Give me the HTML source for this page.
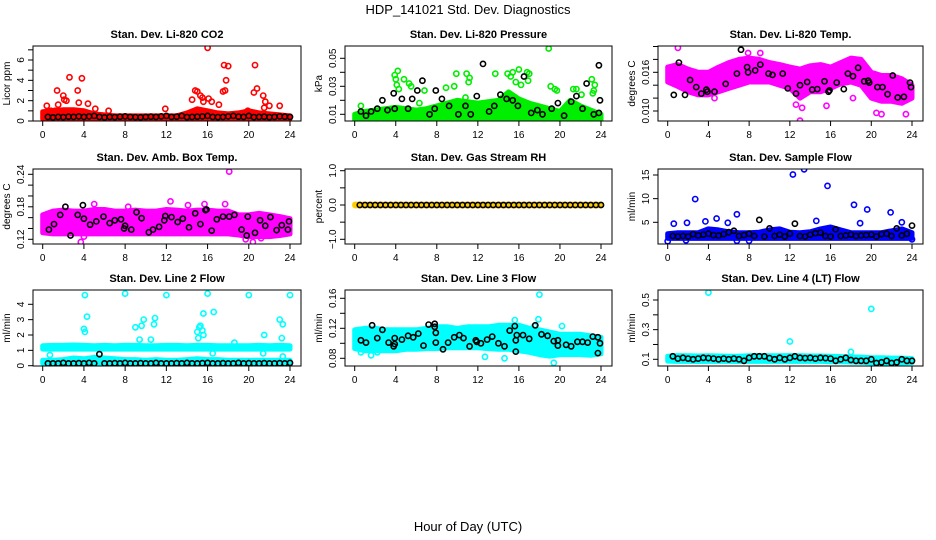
<!DOCTYPE html>
<html><head><meta charset="utf-8">
<style>
html,body{margin:0;padding:0;background:#fff;}
svg{display:block;font-family:"Liberation Sans",Arial,sans-serif;}
</style></head>
<body>
<svg id="chart" width="936" height="540" viewBox="0 0 936 540" xmlns="http://www.w3.org/2000/svg">
<text x="468" y="14" text-anchor="middle" font-size="13">HDP_141021  Std. Dev. Diagnostics</text>
<text x="468" y="531" text-anchor="middle" font-size="13">Hour of Day (UTC)</text>
</svg>
<script>
// ---------- shared data ----------
const bandHours = [0,1,2,3,4,5,6,7,8,9,10,11,12,13,14,15,16,17,18,19,20,21,22,23,24];
const slotHours = [0.5,1,1.5,2,2.5,3,3.5,4,4.5,5,5.5,6,6.5,7,7.5,8,8.5,9,9.5,10,10.5,11,11.5,12,12.5,13,13.5,14,14.5,15,15.5,16,16.5,17,17.5,18,18.5,19,19.5,20,20.5,21,21.5,22,22.5,23,23.5,24];
const xTicks = [0,4,8,12,16,20,24];

// ---------- P1 CO2 ----------
const p1BandLo = [0.2,0.2,0.2,0.2,0.2,0.2,0.2,0.2,0.2,0.2,0.2,0.2,0.2,0.2,0.2,0.2,0.2,0.2,0.2,0.2,0.2,0.2,0.2,0.2,0.2];
const p1BandHi = [0.9,1.0,1.1,1.1,1.0,0.7,0.6,0.5,0.5,0.5,0.5,0.5,0.5,0.5,0.8,1.2,1.0,0.8,0.7,0.8,1.0,0.8,0.7,0.6,0.5];
const p1OutH = [0.4,1.4,1.5,2.0,2.1,2.3,2.6,3.4,3.5,3.8,4.4,5.1,6.4,11.9,14.5,14.8,15.0,15.3,15.5,15.6,16.0,16.1,16.4,17.1,17.5,17.6,17.7,17.8,18.0,19.9,20.5,20.6,20.8,21.4,21.6,22.0,23.0,21.5,0.8,1.2];
const p1OutV = [1.5,3.0,1.6,2.5,2.1,2.0,4.3,3.0,1.8,4.2,1.7,1.2,1.0,1.2,2.1,3.0,2.9,2.5,2.3,1.9,7.2,2.2,1.9,1.6,2.9,5.5,3.0,4.0,5.4,1.0,2.8,5.5,3.2,2.5,1.9,1.5,1.5,1.3,1.0,1.0];
const p1BlackV = [0.4,0.35,0.4,0.38,0.42,0.4,0.45,0.4,0.45,0.5,0.4,0.35,0.4,0.38,0.42,0.45,0.4,0.38,0.36,0.4,0.42,0.4,0.45,0.5,0.4,0.42,0.5,0.38,0.4,0.42,0.45,0.5,0.4,0.38,0.4,0.45,0.5,0.42,0.4,0.5,0.38,0.4,0.42,0.38,0.4,0.45,0.42,0.4];

// ---------- P2 Pressure ----------
const p2BandLo = [0.006,0.006,0.006,0.006,0.006,0.006,0.006,0.006,0.006,0.006,0.006,0.006,0.006,0.006,0.006,0.006,0.006,0.006,0.006,0.006,0.006,0.006,0.006,0.006,0.006];
const p2BandHi = [0.01,0.012,0.013,0.014,0.015,0.014,0.013,0.014,0.016,0.018,0.02,0.019,0.018,0.019,0.02,0.026,0.021,0.018,0.016,0.014,0.012,0.02,0.016,0.013,0.01];
const p2OutH = [0.6,3.9,4.0,4.2,4.1,4.3,4.8,5.3,5.5,6.8,6.3,8.9,9.7,9.9,10.9,11.2,11.1,10.8,13.7,14.9,15.2,15.4,15.7,16.0,16.2,16.8,17.0,16.9,18.9,19.1,19.5,19.7,21.3,21.6,22.1,23.1,23.4,23.3,23.2];
const p2OutV = [0.016,0.038,0.035,0.041,0.031,0.028,0.035,0.032,0.03,0.027,0.018,0.029,0.03,0.039,0.039,0.036,0.033,0.022,0.039,0.039,0.037,0.04,0.033,0.042,0.031,0.04,0.039,0.034,0.057,0.03,0.028,0.027,0.028,0.028,0.024,0.035,0.031,0.027,0.025];
const p2BlackH = [0.6,1.1,1.6,2.2,2.7,3.2,3.8,3.9,4.6,5.2,5.6,6.1,6.6,7.3,7.8,7.9,8.5,9.2,10.1,10.8,11.3,11.9,12.5,13.1,13.6,14.2,14.8,15.4,15.9,16.5,17.2,17.8,18.3,19.2,19.8,20.4,21.1,21.6,22.2,22.6,23.3,23.8,23.9,23.8];
const p2BlackV = [0.012,0.009,0.012,0.014,0.02,0.013,0.025,0.014,0.021,0.014,0.021,0.027,0.034,0.01,0.014,0.027,0.021,0.016,0.01,0.016,0.01,0.023,0.046,0.012,0.016,0.024,0.021,0.02,0.016,0.037,0.011,0.013,0.01,0.014,0.018,0.009,0.019,0.023,0.014,0.032,0.01,0.045,0.02,0.011];

// ---------- P3 Li-820 Temp ----------
const p3BandLo = [0.0145,0.0138,0.013,0.0125,0.0125,0.013,0.0135,0.014,0.0145,0.0145,0.0145,0.014,0.0135,0.012,0.013,0.013,0.0135,0.0142,0.0145,0.014,0.012,0.0115,0.0115,0.0112,0.012];
const p3BandHi = [0.0168,0.0172,0.0165,0.016,0.016,0.0168,0.0175,0.018,0.0182,0.018,0.0175,0.0172,0.0168,0.0165,0.017,0.0172,0.0168,0.0175,0.0182,0.018,0.016,0.0155,0.0155,0.015,0.014];
const p3OutH = [1.0,7.9,9.1,13.0,13.2,21.0,23.4,20.5,4.6,18.2,12.6,15.6];
const p3OutV = [0.0198,0.019,0.019,0.0085,0.0105,0.0095,0.0095,0.0097,0.012,0.012,0.011,0.0108];
const p3BlackH = [0.6,1.1,1.7,2.2,2.8,3.3,3.8,3.9,4.6,5.7,6.8,7.2,7.8,7.9,8.6,9.1,9.9,10.3,11.3,11.8,12.6,13.0,13.7,14.2,14.7,15.4,15.8,15.9,16.6,17.3,17.7,18.2,18.7,19.3,19.7,19.8,20.6,21.1,21.6,22.1,22.6,23.2,23.8,23.9];
const p3BlackV = [0.0125,0.0175,0.0125,0.0148,0.0137,0.0127,0.0133,0.013,0.013,0.0142,0.0158,0.0195,0.0168,0.016,0.0163,0.0172,0.0158,0.0156,0.0158,0.0135,0.0127,0.014,0.0145,0.0133,0.0134,0.0146,0.013,0.0132,0.0144,0.0134,0.0158,0.0154,0.0167,0.0146,0.0147,0.0144,0.0137,0.0137,0.0126,0.0155,0.0121,0.0122,0.0144,0.0137];

// ---------- P4 Amb Box Temp ----------
const p4BandLo = [0.132,0.13,0.13,0.13,0.13,0.13,0.13,0.13,0.13,0.13,0.13,0.13,0.13,0.13,0.13,0.13,0.13,0.13,0.13,0.128,0.125,0.125,0.125,0.127,0.13];
const p4BandHi = [0.165,0.172,0.174,0.172,0.172,0.175,0.175,0.172,0.172,0.174,0.172,0.172,0.175,0.174,0.172,0.174,0.174,0.172,0.172,0.165,0.165,0.168,0.165,0.162,0.158];
const p4OutH = [18.1,3.7,12.4,5.0,15.7,17.7,20.4,21.2,4.0,8.3,14.1,19.7];
const p4OutV = [0.245,0.115,0.19,0.185,0.185,0.185,0.115,0.122,0.125,0.18,0.183,0.12];
const p4BlackH = [0.6,1.1,1.7,2.2,2.7,3.4,3.9,4.0,4.6,5.2,5.9,6.5,7.0,7.6,7.9,8.0,8.6,9.1,9.6,10.3,10.7,11.3,11.8,11.9,12.5,13.1,13.6,14.2,14.8,15.3,15.8,15.9,16.4,16.9,17.5,18.1,18.6,19.3,19.8,19.9,20.6,21.1,21.6,22.1,22.7,23.2,23.8,23.9];
const p4BlackV = [0.138,0.148,0.165,0.18,0.127,0.165,0.183,0.158,0.147,0.153,0.162,0.15,0.155,0.157,0.14,0.145,0.138,0.17,0.159,0.133,0.138,0.143,0.155,0.163,0.161,0.152,0.158,0.142,0.168,0.148,0.174,0.175,0.136,0.157,0.162,0.162,0.165,0.138,0.127,0.162,0.132,0.155,0.145,0.161,0.137,0.146,0.138,0.153];

// ---------- P5 Gas Stream RH ----------
const p5BandLo = [-0.02,-0.02,-0.02,-0.02,-0.02,-0.02,-0.02,-0.02,-0.02,-0.02,-0.02,-0.02,-0.02,-0.02,-0.02,-0.02,-0.02,-0.02,-0.02,-0.02,-0.02,-0.02,-0.02,-0.02,-0.02];
const p5BandHi = [0.02,0.02,0.02,0.02,0.02,0.02,0.02,0.02,0.02,0.02,0.02,0.02,0.02,0.02,0.02,0.02,0.02,0.02,0.02,0.02,0.02,0.02,0.02,0.02,0.02];
const p5OutH = [0.1];
const p5OutV = [0];
const p5BlackV = [0,0,0,0,0,0,0,0,0,0,0,0,0,0,0,0,0,0,0,0,0,0,0,0,0,0,0,0,0,0,0,0,0,0,0,0,0,0,0,0,0,0,0,0,0,0,0,0];

// ---------- P6 Sample Flow ----------
const p6BandLo = [1.6,1.6,1.6,1.6,1.6,1.6,1.6,1.6,1.6,1.6,1.6,1.6,1.6,1.6,1.6,1.6,1.6,1.6,1.6,1.6,1.6,1.6,1.6,1.6,1.6];
const p6BandHi = [2.6,2.8,2.8,2.8,3.6,3.4,3.0,2.8,2.8,2.9,3.4,3.6,2.9,2.8,3.0,3.6,4.0,3.4,2.8,2.8,2.8,2.8,3.2,3.6,2.8];
const p6OutH = [0,0.6,1.9,2.7,3.7,4.8,5.9,6.8,12.3,13.4,14.6,15.7,18.3,18.9,19.6,21.9,23.0,6.8,8.0,1.8,24];
const p6OutV = [1.0,4.7,4.9,9.9,5.2,5.8,4.9,6.7,15.1,16.2,5.3,12.7,8.7,4.8,7.7,7.1,5.0,1.1,1.1,1.2,1.4];
const p6BlackV = [2.1,2.0,2.1,2.0,2.5,2.2,2.4,2.6,2.3,2.2,2.5,2.9,3.2,2.1,2.3,2.6,2.1,5.5,2.0,3.7,2.1,2.4,2.0,2.6,4.7,2.1,2.0,2.4,2.7,2.8,2.1,2.0,3.5,2.1,2.2,2.4,2.1,2.2,2.3,2.4,2.0,2.5,2.6,2.1,3.7,2.2,2.6,4.3];

// ---------- P7 Line 2 Flow ----------
const p7BandLo = [1.08,1.08,1.08,1.08,1.08,1.08,1.08,1.08,1.08,1.08,1.08,1.08,1.08,1.08,1.08,1.08,1.08,1.08,1.08,1.08,1.08,1.08,1.08,1.08,1.08];
const p7BandHi = [1.3,1.32,1.32,1.35,1.32,1.3,1.32,1.3,1.32,1.32,1.3,1.3,1.32,1.32,1.3,1.32,1.32,1.3,1.3,1.3,1.3,1.32,1.3,1.32,1.3];
const p7LowLo = [0.15,0.15,0.15,0.15,0.15,0.15,0.15,0.15,0.15,0.15,0.15,0.15,0.15,0.15,0.15,0.15,0.15,0.15,0.15,0.15,0.15,0.15,0.15,0.15,0.15];
const p7LowHi = [0.35,0.35,0.4,0.5,0.45,0.55,0.5,0.45,0.4,0.4,0.35,0.4,0.35,0.35,0.4,0.45,0.4,0.4,0.35,0.35,0.35,0.35,0.35,0.35,0.35];
const p7OutH = [4.1,4.0,4.1,4.3,8.0,12.0,16.0,20.0,24,9.0,9.6,9.8,10.8,10.9,10.5,9.4,15.0,15.2,15.3,15.5,15.6,15.6,16.6,15.1,21.5,23.0,23.3,23.2,0.7,21.4,16.5,23.3,18.6];
const p7OutV = [4.6,2.4,2.2,3.2,4.7,4.6,4.7,4.6,4.6,2.5,2.6,3.0,2.7,3.1,1.7,1.7,2.2,2.5,2.6,2.3,2.0,3.4,3.5,1.8,2.0,3.0,2.7,1.8,0.7,0.8,0.8,0.6,1.5];
const p7BlackV = [0.15,0.15,0.15,0.18,0.15,0.15,0.16,0.15,0.18,0.15,0.75,0.15,0.15,0.16,0.15,0.18,0.15,0.15,0.16,0.15,0.15,0.18,0.15,0.15,0.15,0.16,0.15,0.18,0.15,0.15,0.16,0.18,0.15,0.15,0.16,0.15,0.15,0.18,0.15,0.16,0.15,0.15,0.16,0.15,0.15,0.16,0.15,0.18];

// ---------- P8 Line 3 Flow ----------
const p8BandLo = [0.093,0.09,0.09,0.09,0.09,0.092,0.092,0.093,0.093,0.094,0.094,0.094,0.094,0.093,0.092,0.092,0.09,0.088,0.085,0.083,0.085,0.085,0.085,0.084,0.086];
const p8BandHi = [0.118,0.12,0.12,0.118,0.118,0.118,0.118,0.12,0.122,0.122,0.12,0.122,0.122,0.122,0.124,0.124,0.124,0.12,0.118,0.115,0.112,0.112,0.112,0.11,0.108];
const p8OutH = [18.0,19.4,12.7,14.6,0.6,1.6,2.2,20.2,17.9,15.6,17.5];
const p8OutV = [0.165,0.074,0.082,0.08,0.088,0.084,0.088,0.123,0.132,0.131,0.123];
const p8BlackH = [0.6,1.1,1.7,2.2,2.7,3.3,3.8,3.9,3.9,4.6,5.2,5.7,6.2,6.7,7.2,7.8,7.8,7.9,7.9,8.6,9.1,9.7,10.2,10.6,11.2,11.8,11.9,12.3,12.9,13.4,14.0,14.6,15.1,15.6,15.7,15.8,15.7,16.4,17.0,17.6,18.2,18.8,19.4,19.8,19.8,20.6,21.1,21.7,22.2,22.7,23.2,23.7,23.9,23.7];
const p8BlackV = [0.104,0.101,0.124,0.107,0.118,0.101,0.096,0.107,0.099,0.105,0.11,0.108,0.113,0.097,0.125,0.126,0.122,0.114,0.101,0.092,0.101,0.108,0.111,0.107,0.096,0.104,0.102,0.1,0.105,0.109,0.1,0.096,0.117,0.123,0.104,0.111,0.089,0.111,0.106,0.124,0.112,0.11,0.103,0.104,0.097,0.098,0.096,0.102,0.102,0.101,0.109,0.108,0.1,0.087];

// ---------- P9 Line 4 (LT) Flow ----------
const p9BandLo = [0.088,0.086,0.086,0.085,0.086,0.086,0.086,0.085,0.086,0.086,0.086,0.086,0.086,0.086,0.086,0.086,0.084,0.083,0.082,0.08,0.076,0.075,0.075,0.076,0.078];
const p9BandHi = [0.12,0.125,0.124,0.122,0.124,0.122,0.12,0.12,0.124,0.125,0.124,0.124,0.125,0.124,0.122,0.122,0.12,0.118,0.116,0.115,0.11,0.11,0.108,0.108,0.105];
const p9OutH = [4.0,20.0,12.0,18.0];
const p9OutV = [0.55,0.44,0.22,0.15];
const p9BlackV = [0.12,0.105,0.11,0.105,0.1,0.105,0.11,0.108,0.105,0.1,0.105,0.1,0.105,0.1,0.09,0.11,0.12,0.12,0.12,0.108,0.1,0.11,0.1,0.11,0.12,0.11,0.108,0.11,0.105,0.11,0.108,0.105,0.09,0.1,0.11,0.095,0.09,0.09,0.09,0.1,0.075,0.08,0.09,0.075,0.08,0.1,0.09,0.09];

// ---------- tick values & labels ----------
const p1Ticks=[0,1,2,3,4,5,6,7], p1Labels=["0","","2","","4","","6",""];
const p2Ticks=[0.01,0.02,0.03,0.04,0.05], p2Labels=["0.01","","0.03","","0.05"];
const p3Ticks=[0.010,0.012,0.014,0.016,0.018,0.020], p3Labels=["0.010","","","0.016","",""];
const p4Ticks=[0.12,0.14,0.16,0.18,0.20,0.22,0.24], p4Labels=["0.12","","","0.18","","","0.24"];
const p5Ticks=[-1,-0.5,0,0.5,1], p5Labels=["\u22121.0","","0.0","","1.0"];
const p6Ticks=[5,10,15], p6Labels=["5","10","15"];
const p7Ticks=[0,1,2,3,4], p7Labels=["0","1","2","3","4"];
const p8Ticks=[0.08,0.10,0.12,0.14,0.16], p8Labels=["0.08","","0.12","","0.16"];
const p9Ticks=[0.1,0.2,0.3,0.4,0.5], p9Labels=["0.1","","0.3","","0.5"];

// ---------- rendering ----------
const NS="http://www.w3.org/2000/svg";
const svg=document.getElementById('chart');
const cols=[{l:33,r:301},{l:345,r:612},{l:658,r:923}];
const rows=[{t:46,b:121},{t:169,b:244},{t:290,b:366}];
function mk(tag,attrs,parent){const e=document.createElementNS(NS,tag);for(const k in attrs)e.setAttribute(k,attrs[k]);(parent||svg).appendChild(e);return e;}

function panel(o){
  const c=cols[o.col], r=rows[o.row];
  const g=mk('g',{});
  
  
  const x0=c.l+9.7, x24=c.r-11;
  const X=h=>x0+(x24-x0)*h/24;
  const Y=v=>o.ya[1]+(o.yb[1]-o.ya[1])*(v-o.ya[0])/(o.yb[0]-o.ya[0]);
  const clip='clip'+o.name;
  const cp=mk('clipPath',{id:clip},g); mk('rect',{x:c.l,y:r.t,width:c.r-c.l,height:r.b-r.t},cp);
  const pg=mk('g',{'clip-path':'url(#'+clip+')'},g);
  // bands
  (o.bands||[]).forEach((b,bi)=>{
    let d='';
    bandHours.forEach((h,i)=>{d+=(i?'L':'M')+X(h).toFixed(1)+','+Y(b[1][i]).toFixed(1);});
    for(let i=bandHours.length-1;i>=0;i--){d+='L'+X(bandHours[i]).toFixed(1)+','+Y(b[0][i]).toFixed(1);}
    const p=mk('path',{d:d+'Z',fill:o.color,stroke:o.color,'stroke-width':5,'stroke-linejoin':'round'},pg);
    
    
  });
  if(o.band2color){
    // overlay colour (e.g. red/yellow in RH)
  }
  o.outH.forEach((h,i)=>{
    const e=mk('circle',{cx:X(h).toFixed(1),cy:Y(o.outV[i]).toFixed(1),r:2.6,fill:'none',stroke:o.color,'stroke-width':1.6},pg);
    
    
  });
  o.blackH.forEach((h,i)=>{
    const e=mk('circle',{cx:X(h).toFixed(1),cy:Y(o.blackV[i]).toFixed(1),r:2.6,fill:'none',stroke:'#000','stroke-width':1.6},pg);
    
    
  });
  // box
  const bx=mk('rect',{x:c.l,y:r.t,width:c.r-c.l,height:r.b-r.t,fill:'none',stroke:'#000','stroke-width':1},g);
  
  
  // title
  const t=mk('text',{x:(c.l+c.r)/2,y:r.t-8,'text-anchor':'middle','font-size':11,'font-weight':'bold'},g);
  t.textContent=o.title;
  
  
  // x axis
  xTicks.forEach(h=>{
    mk('line',{x1:X(h),x2:X(h),y1:r.b,y2:r.b+5,stroke:'#000'},g);
    const lt=mk('text',{x:X(h),y:r.b+17,'text-anchor':'middle','font-size':10},g);
    lt.textContent=h;
    
    
  });
  // y axis
  o.ticks.forEach((v,i)=>{
    const y=Y(v);
    mk('line',{x1:c.l-5,x2:c.l,y1:y,y2:y,stroke:'#000'},g);
    if(o.labels[i]){
      const lt=mk('text',{x:c.l-9,y:y,'text-anchor':'middle','font-size':10,transform:'rotate(-90 '+(c.l-9)+' '+y+')'},g);
      lt.textContent=o.labels[i];
      
      
    }
  });
  const my=(r.t+r.b)/2;
  const yt=mk('text',{x:c.l-23,y:my,'text-anchor':'middle','font-size':10,transform:'rotate(-90 '+(c.l-23)+' '+my+')'},g);
  yt.textContent=o.ylab;
  
  
}

panel({name:'panel-co2',col:0,row:0,title:'Stan. Dev. Li-820 CO2',ylab:'Licor ppm',color:'#ff0000',ya:[0,121],yb:[6,60],ticks:p1Ticks,labels:p1Labels,bands:[[p1BandLo,p1BandHi]],outH:p1OutH,outV:p1OutV,blackH:slotHours,blackV:p1BlackV});
panel({name:'panel-pressure',col:1,row:0,title:'Stan. Dev. Li-820 Pressure',ylab:'kPa',color:'#00ee00',ya:[0.01,114.3],yb:[0.05,58.3],ticks:p2Ticks,labels:p2Labels,bands:[[p2BandLo,p2BandHi]],outH:p2OutH,outV:p2OutV,blackH:p2BlackH,blackV:p2BlackV});
panel({name:'panel-li820-temp',col:2,row:0,title:'Stan. Dev. Li-820 Temp.',ylab:'degrees C',color:'#ff00ff',ya:[0.010,111],yb:[0.016,72.3],ticks:p3Ticks,labels:p3Labels,bands:[[p3BandLo,p3BandHi]],outH:p3OutH,outV:p3OutV,blackH:p3BlackH,blackV:p3BlackV});
panel({name:'panel-amb-box-temp',col:0,row:1,title:'Stan. Dev. Amb. Box Temp.',ylab:'degrees C',color:'#ff00ff',ya:[0.12,239.3],yb:[0.24,174.3],ticks:p4Ticks,labels:p4Labels,bands:[[p4BandLo,p4BandHi]],outH:p4OutH,outV:p4OutV,blackH:p4BlackH,blackV:p4BlackV});
panel({name:'panel-gas-rh',col:1,row:1,title:'Stan. Dev. Gas Stream RH',ylab:'percent',color:'#ffcc00',ya:[0,205],yb:[1,170.7],ticks:p5Ticks,labels:p5Labels,bands:[[p5BandLo,p5BandHi]],outH:p5OutH,outV:p5OutV,blackH:slotHours,blackV:p5BlackV});
panel({name:'panel-sample-flow',col:2,row:1,title:'Stan. Dev. Sample Flow',ylab:'ml/min',color:'#0000ff',ya:[5,222.3],yb:[15,175],ticks:p6Ticks,labels:p6Labels,bands:[[p6BandLo,p6BandHi]],outH:p6OutH,outV:p6OutV,blackH:slotHours,blackV:p6BlackV});
panel({name:'panel-line2-flow',col:0,row:2,title:'Stan. Dev. Line 2 Flow',ylab:'ml/min',color:'#00ffff',ya:[0,365.7],yb:[4,304.3],ticks:p7Ticks,labels:p7Labels,bands:[[p7BandLo,p7BandHi],[p7LowLo,p7LowHi]],outH:p7OutH,outV:p7OutV,blackH:slotHours,blackV:p7BlackV});
panel({name:'panel-line3-flow',col:1,row:2,title:'Stan. Dev. Line 3 Flow',ylab:'ml/min',color:'#00ffff',ya:[0.08,358.3],yb:[0.16,298.3],ticks:p8Ticks,labels:p8Labels,bands:[[p8BandLo,p8BandHi]],outH:p8OutH,outV:p8OutV,blackH:p8BlackH,blackV:p8BlackV});
panel({name:'panel-line4-flow',col:2,row:2,title:'Stan. Dev. Line 4 (LT) Flow',ylab:'ml/min',color:'#00ffff',ya:[0.1,359.3],yb:[0.5,300],ticks:p9Ticks,labels:p9Labels,bands:[[p9BandLo,p9BandHi]],outH:p9OutH,outV:p9OutV,blackH:slotHours,blackV:p9BlackV});
</script>
</body></html>
